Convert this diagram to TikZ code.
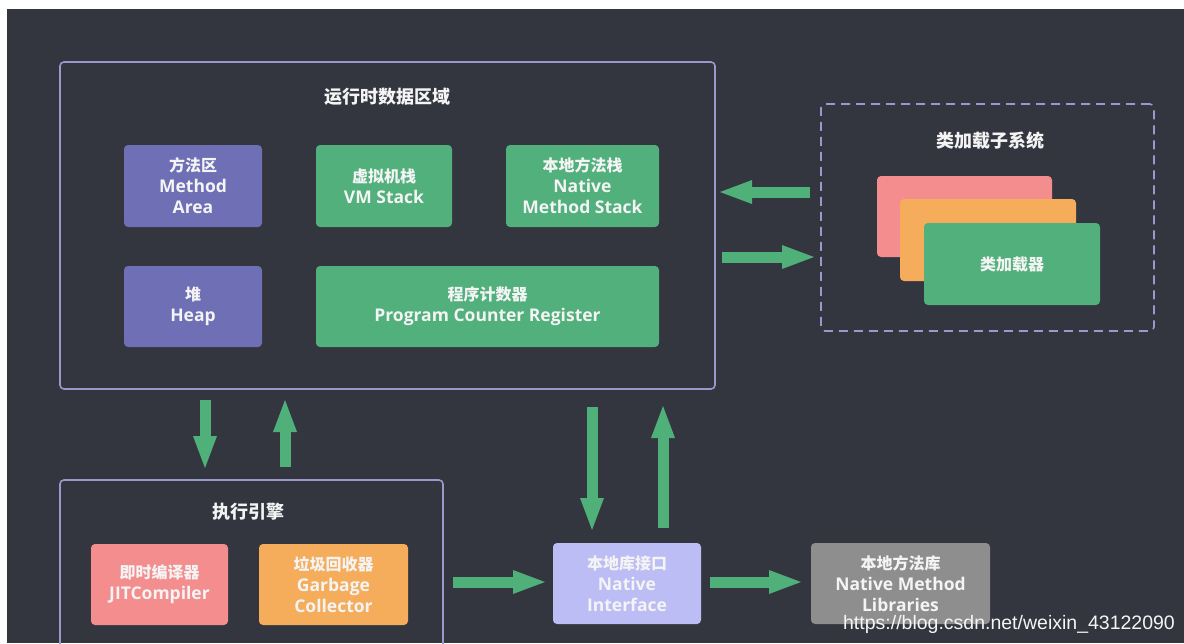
\documentclass[tikz,border=0pt]{standalone}
\usepackage{fontspec}
\setmainfont{Open Sans}
\newfontfamily\cjk{Noto Sans CJK SC}
\newfontfamily\wmfont{Liberation Sans}
\newcommand{\zhl}[1]{{\cjk\fontsize{16}{21}\selectfont #1}}
\usetikzlibrary{arrows.meta,calc}
\definecolor{bgdark}{HTML}{33353F}
\definecolor{frame}{HTML}{9B99CC}
\definecolor{cpurple}{HTML}{6E6FB4}
\definecolor{cgreen}{HTML}{51B07B}
\definecolor{cpink}{HTML}{F48D8E}
\definecolor{corange}{HTML}{F6AD5B}
\definecolor{clav}{HTML}{BDBDF5}
\definecolor{cgray}{HTML}{8E8E8E}
\definecolor{txt}{HTML}{F4F4F4}
\definecolor{arrgreen}{HTML}{4FB07A}
\begin{document}
\begin{tikzpicture}[x=1pt,y=-1pt,
  box/.style={rounded corners=4pt, inner sep=0pt, outer sep=0pt, align=center, text=txt,
    font=\bfseries\fontsize{17.5}{21}\selectfont},
  frm/.style={draw=frame, line width=1.6pt, rounded corners=4pt, inner sep=0pt, outer sep=0pt},
  ttl/.style={text=txt, font=\cjk\bfseries\fontsize{18}{22}\selectfont, inner sep=0pt},
  arr/.style={draw=arrgreen, line width=11pt, -{Triangle[width=24pt,length=32pt,line width=0pt]}}]
\useasboundingbox (0,0) rectangle (1184,643);
\fill[white] (0,0) rectangle (1184,643);
\fill[bgdark] (7,9) rectangle (1184,643);
\begin{scope}
\clip (7,9) rectangle (1184,643);
% runtime data area
\node[frm, minimum width=655pt, minimum height=327pt] (rt) at (387.5,225.5) {};
\node[ttl] (rtt) at (387,97) {运行时数据区域};
\node[box, fill=cpurple, minimum width=138pt, minimum height=82pt] (ma) at (193,186) {\zhl{方法区}\\Method\\Area};
\node[box, fill=cgreen, minimum width=136pt, minimum height=82pt] (vm) at (384,186) {\zhl{虚拟机栈}\\VM Stack};
\node[box, fill=cgreen, minimum width=153pt, minimum height=82pt] (nms) at (582.5,186) {\zhl{本地方法栈}\\Native\\Method Stack};
\node[box, fill=cpurple, minimum width=138pt, minimum height=81pt] (hp) at (193,306.5) {\zhl{堆}\\Heap};
\node[box, fill=cgreen, minimum width=343pt, minimum height=81pt] (pc) at (487.5,306.5) {\zhl{程序计数器}\\Program Counter Register};
% class loader subsystem
\node[frm, dashed, dash pattern=on 9pt off 6pt, minimum width=333pt, minimum height=227pt] (ld) at (987.5,217.5) {};
\node[ttl] (ldt) at (990,141) {类加载子系统};
\node[box, fill=cpink, minimum width=175pt, minimum height=81pt] (c1) at (964.5,216.5) {};
\node[box, fill=corange, minimum width=176pt, minimum height=82pt] (c2) at (988,240) {};
\node[box, fill=cgreen, minimum width=176pt, minimum height=82pt] (c3) at (1012,264) {\zhl{类加载器}};
% execution engine
\node[frm, minimum width=383pt, minimum height=180pt] (ee) at (251.5,570) {};
\node[ttl] (eet) at (248,512) {执行引擎};
\node[box, fill=cpink, minimum width=137pt, minimum height=81pt] (jit) at (159.5,584.5) {\zhl{即时编译器}\\JITCompiler};
\node[box, fill=corange, minimum width=149pt, minimum height=81pt] (gc) at (333.5,584.5) {\zhl{垃圾回收器}\\Garbage\\Collector};
% native interface / libraries
\node[box, fill=clav, minimum width=148pt, minimum height=81pt] (ni) at (627,583.5) {\zhl{本地库接口}\\Native\\Interface};
\node[box, fill=cgray, minimum width=179pt, minimum height=81pt] (nml) at (900.5,583.5) {\zhl{本地方法库}\\Native Method\\Libraries};
% arrows
\draw[arr] ($(ld.west)+(-11,-25.5)$) -- ($(rt.east)+(5,-33.5)$);
\draw[arr] ($(rt.east)+(7,31.5)$) -- ($(ld.west)+(-7,39.5)$);
\draw[arr] ($(rt.south)+(-182.5,11)$) -- ($(ee.north)+(-46.5,-12)$);
\draw[arr] ($(ee.north)+(33.5,-13)$) -- ($(rt.south)+(-102.5,11)$);
\draw[arr] ($(rt.south)+(204.5,18)$) -- ($(ni.north)+(-35,-13)$);
\draw[arr] ($(ni.north)+(36,-15)$) -- ($(rt.south)+(275.5,17)$);
\draw[arr] ($(ee.east)+(10,12)$) -- ($(ni.west)+(-8,-1.5)$);
\draw[arr] ($(ni.east)+(9,-1.5)$) -- ($(nml.west)+(-10,-1.5)$);
% watermark
\node[text=white!92!gray, font=\wmfont\fontsize{19.5}{21}\selectfont, inner sep=0pt] (wm) at (1009,624) {https://blog.csdn.net/weixin\_43122090};
\end{scope}
\end{tikzpicture}
\end{document}
